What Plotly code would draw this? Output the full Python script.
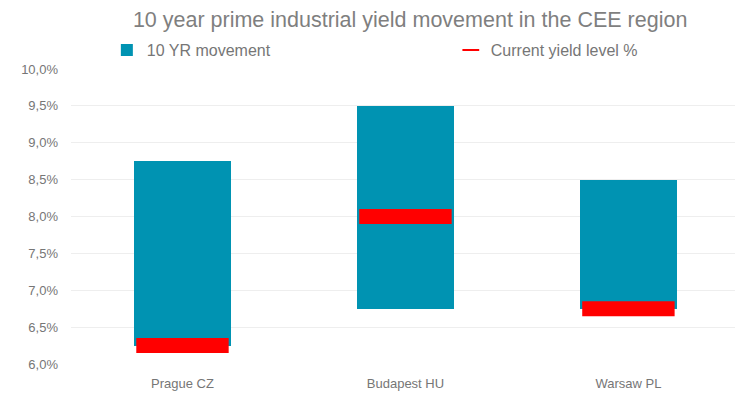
import plotly.graph_objects as go

cities = ["Prague CZ", "Budapest HU", "Warsaw PL"]
yield_low = [6.25, 6.75, 6.75]
yield_high = [8.75, 9.50, 8.50]
current_yield = [6.25, 8.00, 6.75]

teal = "#0093B2"
grey = "#767676"

fig = go.Figure()
fig.add_trace(go.Bar(
    x=cities,
    y=[h - l for h, l in zip(yield_high, yield_low)],
    base=yield_low,
    width=0.434,
    marker=dict(color=teal, line=dict(width=0)),
    name="10 YR movement",
    hoverinfo="skip",
    legend="legend",
))
fig.add_trace(go.Scatter(
    x=cities,
    y=current_yield,
    mode="markers",
    marker=dict(symbol="line-ew", size=66, color="red",
                line=dict(color="#FF0000", width=15)),
    name="Current yield level %",
    legend="legend2",
))

leg_common = dict(orientation="h", yanchor="middle", y=1.064, xanchor="left",
                  itemsizing="constant", font=dict(size=16, color=grey),
                  bgcolor="rgba(0,0,0,0)")

fig.update_layout(
    width=735, height=394,
    margin=dict(l=71, r=0, t=69, b=30, autoexpand=False),
    paper_bgcolor="white", plot_bgcolor="white",
    separators=", ",
    font=dict(family="Liberation Sans, Arial, sans-serif", color=grey, size=13),
    title=dict(text="10 year prime industrial yield movement in the CEE region",
               x=0.558, xanchor="center", y=0.95, yanchor="middle",
               font=dict(size=21.5, color="#7F7F7F")),
    showlegend=True,
    legend=dict(x=0.054, **leg_common),
    legend2=dict(x=0.572, **leg_common),
    barmode="overlay",
    bargap=0,
)
fig.update_xaxes(range=[-0.5, 2.478], showgrid=False, showline=False, zeroline=False,
                 tickfont=dict(size=13, color=grey), ticklabelstandoff=10)
fig.update_yaxes(range=[6, 10], dtick=0.5, tick0=6, tickformat=".1f", ticksuffix="%",
                 showgrid=True, gridcolor="#EEEEEE", gridwidth=1, zeroline=False,
                 showline=False, tickfont=dict(size=13, color=grey), ticklabelstandoff=12)

fig.write_html("out.html", config={"displayModeBar": False},
               post_script="document.body.style.margin='0';")
